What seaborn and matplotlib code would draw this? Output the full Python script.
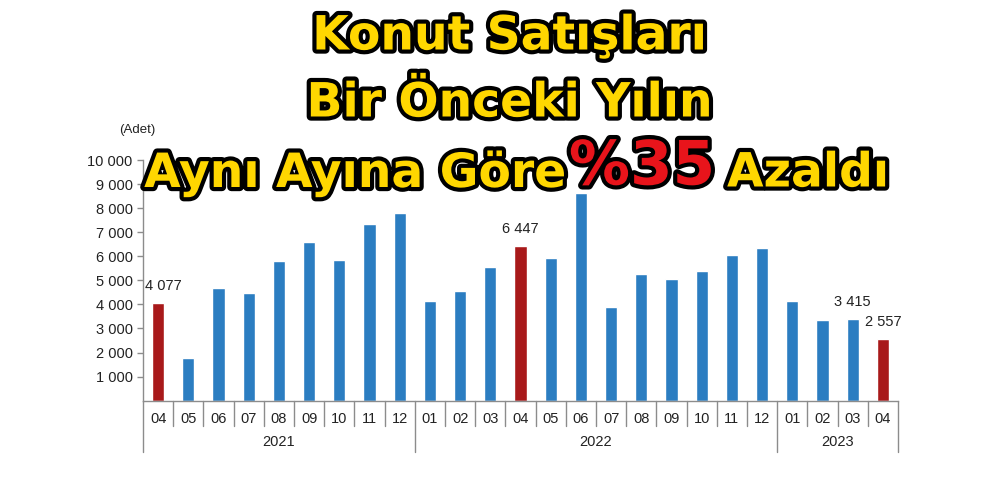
import matplotlib
matplotlib.use("Agg")
import matplotlib.pyplot as plt
import matplotlib.patheffects as pe
import matplotlib.transforms as mtrans
import pandas as pd
import seaborn as sns

# veri
years = ["2021"] * 9 + ["2022"] * 12 + ["2023"] * 4
months = ["04", "05", "06", "07", "08", "09", "10", "11", "12",
          "01", "02", "03", "04", "05", "06", "07", "08", "09", "10", "11", "12",
          "01", "02", "03", "04"]
sales = [4077, 1760, 4700, 4470, 5820, 6610, 5860, 7330, 7790,
         4140, 4560, 5550, 6447, 5920, 8620, 3910, 5260, 5050, 5370, 6060, 6350,
         4140, 3350, 3415, 2557]
labelled = ["2021-04", "2022-04", "2023-03", "2023-04"]
yticks = [1000, 2000, 3000, 4000, 5000, 6000, 7000, 8000, 9000, 10000]

df = pd.DataFrame({"year": years, "month": months, "sales": sales})
df["key"] = df["year"] + "-" + df["month"]
df["grp"] = ["nisan" if m == "04" else "diger" for m in df["month"]]

sns.set_style("white")
plt.rcParams["font.family"] = ["Liberation Sans", "DejaVu Sans"]

fig = plt.figure(figsize=(10, 5), dpi=100)
ax = fig.add_axes([0.143, 0.1986, 0.755, 0.4814])

sns.barplot(data=df, x="key", y="sales", hue="grp", order=list(df["key"]),
            palette={"nisan": "#A8191A", "diger": "#2B7DC1"},
            dodge=False, width=0.41, legend=False, ax=ax, saturation=1)

gray = "#8C8C8C"
ax.set_xlim(-0.5, len(df) - 0.5)
ax.set_ylim(0, 10000)
ax.set_yticks(yticks)
ax.set_yticklabels([f"{v:,}".replace(",", " ") for v in yticks])
ax.set_xticks(range(len(df)))
ax.set_xticklabels(df["month"])
ax.tick_params(axis="x", length=0, pad=8, labelsize=10.5, labelcolor="#222222")
ax.tick_params(axis="y", length=4, width=1, color=gray, labelsize=10.5,
               labelcolor="#222222", left=True)
ax.set_xlabel("")
ax.set_ylabel("")
for s in ["top", "right"]:
    ax.spines[s].set_visible(False)
for s in ["left", "bottom"]:
    ax.spines[s].set_color(gray)
    ax.spines[s].set_linewidth(1)

# ay / yil ayiraclari
trans = mtrans.blended_transform_factory(ax.transData, ax.transAxes)
year_edges = [0]
for i in range(1, len(df)):
    if years[i] != years[i - 1]:
        year_edges.append(i)
year_edges.append(len(df))
for i in range(len(df) + 1):
    depth = 0.212 if i in year_edges else 0.104
    ax.plot([i - 0.5, i - 0.5], [0, -depth], transform=trans, color=gray,
            lw=1, clip_on=False)
for a, b in zip(year_edges[:-1], year_edges[1:]):
    ax.text((a + b - 1) / 2, -0.172, years[a], transform=trans, ha="center",
            va="center", fontsize=10.5, color="#222222")

# deger etiketleri
for i, row in df.iterrows():
    if row["key"] in labelled:
        dx = 4 if i == 0 else 0
        ax.annotate(f"{row['sales']:,}".replace(",", " "), (i, row["sales"]),
                    xytext=(dx, 7), textcoords="offset points", ha="center",
                    va="bottom", fontsize=10.5, color="#222222")

fig.text(0.137, 0.74, "(Adet)", ha="center", va="center", fontsize=9.5,
         color="#222222")

# baslik
stroke = [pe.withStroke(linewidth=6, foreground="black")]
tkw = dict(fontsize=34, fontweight="bold", color="#FFD700", family="DejaVu Sans",
           ha="center", va="center", path_effects=stroke)
fig.text(0.510, 0.926, "Konut Satışları", **tkw)
fig.text(0.510, 0.792, "Bir Önceki Yılın", **tkw)
tkw["ha"] = "right"
fig.text(0.567, 0.652, "Aynı Ayına Göre", **tkw)
tkw["ha"] = "left"
fig.text(0.727, 0.652, "Azaldı", **tkw)
fig.text(0.642, 0.664, "%35", fontsize=44, fontweight="bold", color="#E8141B",
         family="DejaVu Sans", ha="center", va="center", path_effects=stroke)

fig.savefig("out.png", dpi=100, facecolor="white")
